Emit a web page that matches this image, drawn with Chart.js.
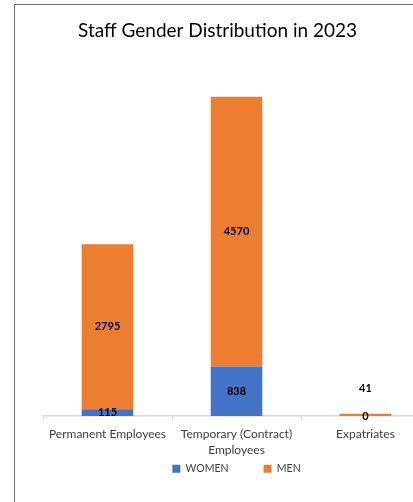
<!DOCTYPE html>
<html>
<head>
<meta charset="utf-8">
<script src="https://cdn.jsdelivr.net/npm/chart.js@4"></script>
<style>
  html, body { margin: 0; padding: 0; overflow: hidden; background: #fff; }
  #frame {
    position: absolute; left: 14px; top: 4px; width: 520px; height: 540px;
    border-top: 1px solid #6e6e6e; border-left: 1px solid #6e6e6e;
  }
  #box { position: absolute; left: 5px; top: 5px; width: 430px; height: 515px; }
</style>
</head>
<body>
<div id="frame"></div>
<div id="box"><canvas id="chart"></canvas></div>
<script>
// data
var categories = ['Permanent Employees', ['Temporary (Contract)', 'Employees'], 'Expatriates'];
var women = [115, 838, 0];
var men = [2795, 4570, 41];

// value labels in the middle of each segment (tiny top segments go above)
var valueLabels = {
    id: 'valueLabels',
    afterDatasetsDraw: function (chart) {
        var ctx = chart.ctx;
        ctx.save();
        ctx.font = 'bold 11px Lato';
        ctx.fillStyle = '#000';
        ctx.textAlign = 'center';
        ctx.textBaseline = 'middle';
        chart.data.datasets.forEach(function (ds, di) {
            var meta = chart.getDatasetMeta(di);
            meta.data.forEach(function (bar, i) {
                var h = bar.base - bar.y;
                var y = bar.y + h / 2;
                if (di === chart.data.datasets.length - 1 && h < 4) {
                    y = bar.y - 25;
                }
                ctx.fillText(ds.data[i], bar.x, y);
            });
        });
        ctx.restore();
    }
};

// wide legend spacing needs big padding, so pull the legend back up under the axis
var legendNudge = {
    id: 'legendNudge',
    afterLayout: function (chart) {
        var lg = chart.legend;
        var dy = lg.top - (chart.scales.x.bottom - 36);
        lg.top -= dy;
        lg.bottom -= dy;
    }
};

var ctx = document.getElementById('chart').getContext('2d');
new Chart(ctx, {
    type: 'bar',
    data: {
        labels: categories,
        datasets: [
            { label: 'WOMEN', data: women, backgroundColor: '#4472C4' },
            { label: 'MEN', data: men, backgroundColor: '#ED7D31' }
        ]
    },
    options: {
        responsive: true,
        maintainAspectRatio: false,
        animation: false,
        layout: { padding: { left: 0, right: 5, top: 0, bottom: 0 } },
        datasets: { bar: { categoryPercentage: 1, barPercentage: 0.4 } },
        scales: {
            x: {
                stacked: true,
                grid: { display: true, drawOnChartArea: false, drawTicks: true, tickLength: 4, color: '#d9d9d9' },
                border: { color: '#d9d9d9', width: 1.5 },
                ticks: { color: '#404040', font: { family: 'Lato', size: 12, lineHeight: 1.35 }, padding: 6, maxRotation: 0 }
            },
            y: {
                stacked: true,
                min: 0,
                max: 6000,
                grid: { display: false },
                border: { display: false },
                ticks: { display: false },
                afterFit: function (s) { s.width = 38; }
            }
        },
        plugins: {
            title: {
                display: true,
                text: 'Staff Gender Distribution in 2023',
                color: '#000',
                font: { family: 'Lato', size: 19, weight: 'normal' },
                padding: { top: 14, bottom: 20 }
            },
            legend: {
                position: 'bottom',
                fullSize: false,
                labels: {
                    boxWidth: 8, boxHeight: 8, padding: 35,
                    color: '#404040',
                    font: { family: 'Lato', size: 10.5 }
                }
            },
            tooltip: { enabled: false }
        }
    },
    plugins: [valueLabels, legendNudge]
});
</script>
</body>
</html>
